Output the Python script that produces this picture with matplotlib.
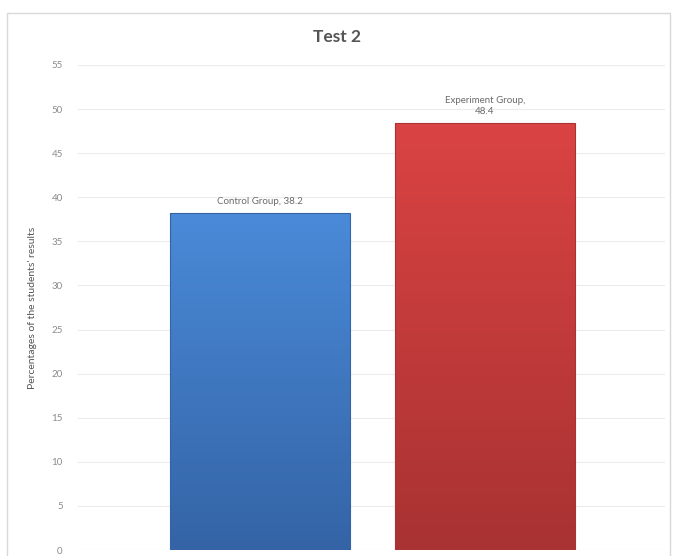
import numpy as np
import matplotlib
matplotlib.use('Agg')
import matplotlib.pyplot as plt
from matplotlib.patches import Rectangle

plt.rcParams['font.family'] = ['Lato', 'DejaVu Sans']

# Datos del grafico
groups = ['Control Group', 'Experiment Group']
values = [38.2, 48.4]
bar_labels = ['Control Group, 38.2', 'Experiment Group,\n48.4']
yticks = list(range(0, 60, 5))

# Colores de gradiente (arriba, abajo)
colors_top = ['#4a8ad8', '#da4343']
colors_bottom = ['#3464a6', '#a93232']

W, H = 674, 556
fig = plt.figure(figsize=(W / 100, H / 100), dpi=100)

# Borde exterior del grafico
fig.patches.append(Rectangle((7 / W, -0.02), 663 / W, 1 - 13 / H + 0.02,
                             transform=fig.transFigure, fill=False,
                             edgecolor='#d9d9d9', linewidth=1))

ax = fig.add_axes([78 / W, 1 - 550 / H, 587 / W, 485 / H])
ax.set_yticks(yticks)
ax.set_yticklabels([str(t) for t in yticks], color='#8a8a8a', fontsize=7)
ax.tick_params(axis='y', length=0, pad=11)
ax.set_xticks([])
ax.grid(axis='y', color='#ececec', linewidth=0.8)
ax.set_axisbelow(True)
for s in ax.spines.values():
    s.set_visible(False)

width = 0.8
for i, v in enumerate(values):
    x0 = i - width / 2
    c1 = np.array(matplotlib.colors.to_rgb(colors_top[i]))
    c2 = np.array(matplotlib.colors.to_rgb(colors_bottom[i]))
    t = np.linspace(0, 1, 100)[:, None]
    grad = (c1 * (1 - t) + c2 * t)[:, None, :]
    grad = np.repeat(grad, 2, axis=1)
    ax.imshow(grad, extent=[x0, x0 + width, 0, v], aspect='auto',
              origin='upper', zorder=2)
    ax.add_patch(Rectangle((x0, 0), width, v, fill=False,
                           edgecolor=colors_bottom[i], linewidth=0.8, zorder=3))
    ax.text(i, v + 0.8, bar_labels[i], ha='center', va='bottom',
            fontsize=7, color='#6a6a6a', linespacing=1.3)

ax.set_xlim(-0.809, 1.8)
ax.set_ylim(0, 55)
ax.set_ylabel("Percentages of the students' results", fontsize=7.5,
              color='#555555', labelpad=10)
fig.text(337 / W, 1 - 37 / H, 'Test 2', ha='center', va='center',
         fontsize=12.5, fontweight='bold', color='#555555')

fig.savefig('out.png', dpi=100)
